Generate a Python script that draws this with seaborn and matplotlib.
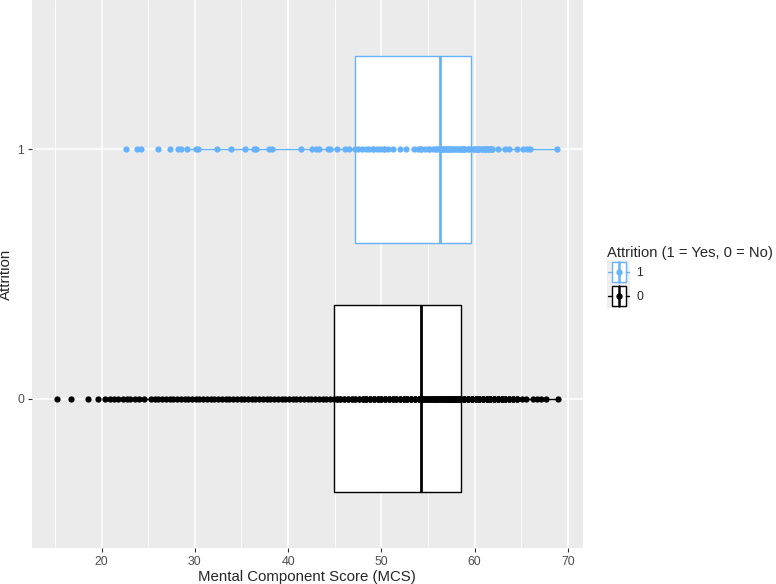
import numpy as np
import pandas as pd
import seaborn as sns
import matplotlib.pyplot as plt
from matplotlib.lines import Line2D
from matplotlib.patches import Rectangle
from matplotlib.legend_handler import HandlerBase
from matplotlib.ticker import MultipleLocator

# MCS values.
# *_single: points seen once; *_core: points stacked on top of each other (with counts)
mcs1_single = [22.6, 23.8, 24.2, 26.1, 27.3, 28.2, 28.5, 29.2, 30.1, 30.3, 32.4, 33.9, 35.4,
               36.3, 36.6, 38.0, 38.3, 41.4, 42.6, 43.0, 43.3, 44.3, 44.5, 45.2, 46.1, 46.5,
               62.5, 63.3, 63.7, 64.5, 65.2, 65.6, 65.9, 68.8]
mcs1_core = [47.22,
             47.5, 47.9, 48.3, 48.7, 49.1, 49.5, 49.9, 50.3, 50.7, 51.2,
             52.0, 52.6, 53.5, 53.9, 54.3, 54.7, 55.1, 55.5, 55.9, 56.2,
             56.33,
             56.6, 56.9, 57.2, 57.5, 57.8, 58.1, 58.4, 58.7, 58.9, 59.3,
             59.61,
             59.9, 60.2, 60.5, 60.8, 61.1, 61.4, 61.7, 61.9]
mcs1_core_n = [1,
               1, 1, 1, 1, 2, 1, 1, 2, 1, 1,
               1, 1, 1, 1, 2, 1, 2, 1, 2, 1,
               1,
               3, 3, 3, 2, 2, 2, 2, 3, 3, 2,
               1,
               2, 3, 2, 2, 3, 2, 2, 2]

mcs0_single = [15.2, 16.7, 18.5, 19.6,
               20.4, 20.9, 21.3, 21.8, 22.3, 22.7, 23.1, 23.6, 24.0, 24.6,
               25.3, 25.7, 26.1, 26.5, 26.9, 27.3, 27.7, 28.1, 28.5, 28.9,
               29.3, 29.7, 30.1, 30.5, 30.9, 31.3, 31.7, 32.1, 32.5, 32.9,
               33.3, 33.7, 34.1, 34.5, 34.9, 35.3, 35.7, 36.1, 36.5, 36.9,
               37.3, 37.7, 38.1, 38.5, 38.9, 39.3, 39.7, 40.1, 40.5, 40.9,
               41.3, 41.7, 42.1, 42.5, 42.9, 43.3, 43.7, 44.1, 44.5,
               65.05, 65.5, 66.3, 66.7, 67.1, 67.7, 68.9]
mcs0_core = [44.87,
             45.2, 45.6, 46.0, 46.4, 46.8, 47.2, 47.6,
             48.0, 48.4, 48.8, 49.2, 49.6, 50.0, 50.4, 50.8,
             51.2, 51.6, 52.0, 52.4, 52.8, 53.2, 53.6, 54.0,
             54.26,
             54.5, 54.8, 55.1, 55.4, 55.7, 56.0, 56.3, 56.6, 56.9, 57.2, 57.5, 57.8, 58.1, 58.4,
             58.58,
             58.9, 59.3, 59.7, 60.1, 60.5, 60.9, 61.3, 61.7, 62.1, 62.5, 62.9, 63.3, 63.7, 64.1, 64.5]
mcs0_core_n = [1,
               2, 2, 2, 2, 2, 2, 2,
               3, 3, 3, 3, 3, 3, 3, 3,
               3, 3, 3, 3, 3, 3, 3, 3,
               1,
               4, 4, 4, 4, 4, 4, 4, 4, 5, 5, 5, 5, 5, 5,
               1,
               4, 4, 4, 4, 4, 4, 4, 4, 4, 4, 4, 3, 3, 3, 3]

groups = ['1', '0']
colors = {'1': '#66B2FF', '0': 'black'}
dot_size = 4.5


def expand(single, core, counts):
    return np.concatenate([single, np.repeat(core, counts)])


df = pd.concat([
    pd.DataFrame({'mcs': expand(mcs1_single, mcs1_core, mcs1_core_n), 'attrition': '1'}),
    pd.DataFrame({'mcs': expand(mcs0_single, mcs0_core, mcs0_core_n), 'attrition': '0'}),
], ignore_index=True)


# legend key: small horizontal boxplot with a dot, like ggplot's
class BoxKey(HandlerBase):
    def create_artists(self, legend, orig_handle, xdescent, ydescent,
                       width, height, fontsize, trans):
        c = orig_handle.get_color()
        x0, y0 = -xdescent, -ydescent
        bw, bh = width * 0.6, height * 0.84
        bx, by = x0 + (width - bw) / 2, y0 + (height - bh) / 2
        xm, ym = x0 + width / 2, y0 + height / 2
        bg = Rectangle((x0, y0), width, height, facecolor='#EFEFEF', edgecolor='none', transform=trans)
        box = Rectangle((bx, by), bw, bh, facecolor='white', edgecolor=c, lw=1.0, transform=trans)
        wl = Line2D([x0 + width * 0.04, bx], [ym, ym], color=c, lw=1.0, transform=trans)
        wr = Line2D([bx + bw, x0 + width * 0.96], [ym, ym], color=c, lw=1.0, transform=trans)
        med = Line2D([xm, xm], [by, by + bh], color=c, lw=1.8, transform=trans)
        dot = Line2D([xm], [ym], marker='o', ms=dot_size, mew=0, color=c, transform=trans)
        return [bg, box, wl, wr, med, dot]


sns.set_style('darkgrid', {'axes.facecolor': '#EBEBEB', 'grid.color': 'white'})
plt.rcParams['font.family'] = ['Liberation Sans', 'DejaVu Sans']

fig, ax = plt.subplots(figsize=(7.76, 5.84), dpi=100)
fig.subplots_adjust(left=0.0409, right=0.7509, bottom=0.0616, top=1.0)

for g in groups:
    sub = df[df['attrition'] == g]
    sns.boxplot(data=sub, x='mcs', y='attrition', order=groups, color='white',
                linecolor=colors[g], linewidth=1.0, width=0.75, whis=1.5,
                showcaps=False, showfliers=False, medianprops={'linewidth': 2.0}, ax=ax)
    sns.stripplot(data=sub, x='mcs', y='attrition', order=groups, jitter=False,
                  color=colors[g], size=dot_size, linewidth=0, zorder=3, ax=ax)

# ggplot-like expansion
lo, hi = df['mcs'].min(), df['mcs'].max()
r = hi - lo
ax.set_xlim(lo - 0.05 * r, hi + 0.05 * r)
ax.set_ylim(1.6, -0.6)

ax.xaxis.set_major_locator(MultipleLocator(10))
ax.xaxis.set_minor_locator(MultipleLocator(5))
ax.grid(which='major', color='white', linewidth=1.1)
ax.grid(which='minor', axis='x', color='white', linewidth=0.55)
ax.tick_params(which='minor', length=0)
ax.tick_params(which='major', bottom=True, left=True, length=3, width=0.8, color='#333333',
               labelcolor='#4D4D4D', labelsize=8.8, pad=2.5)
for s in ax.spines.values():
    s.set_visible(False)

ax.set_xlabel('Mental Component Score (MCS)', fontsize=10.8, labelpad=2)
ax.set_ylabel('Attrition', fontsize=10.8, labelpad=3)

handles = [Line2D([], [], color=colors[g], label=g) for g in groups]
fig.legend(handles=handles, title='Attrition (1 = Yes, 0 = No)', handler_map={Line2D: BoxKey()},
           loc='center left', bbox_to_anchor=(607 / 776, 1 - 277 / 584), frameon=False,
           fontsize=8.8, title_fontsize=10.6, handlelength=1.9, handleheight=2.6,
           labelspacing=0, handletextpad=0.5, borderpad=0, borderaxespad=0, alignment='left')

fig.savefig('out.png', dpi=100)
